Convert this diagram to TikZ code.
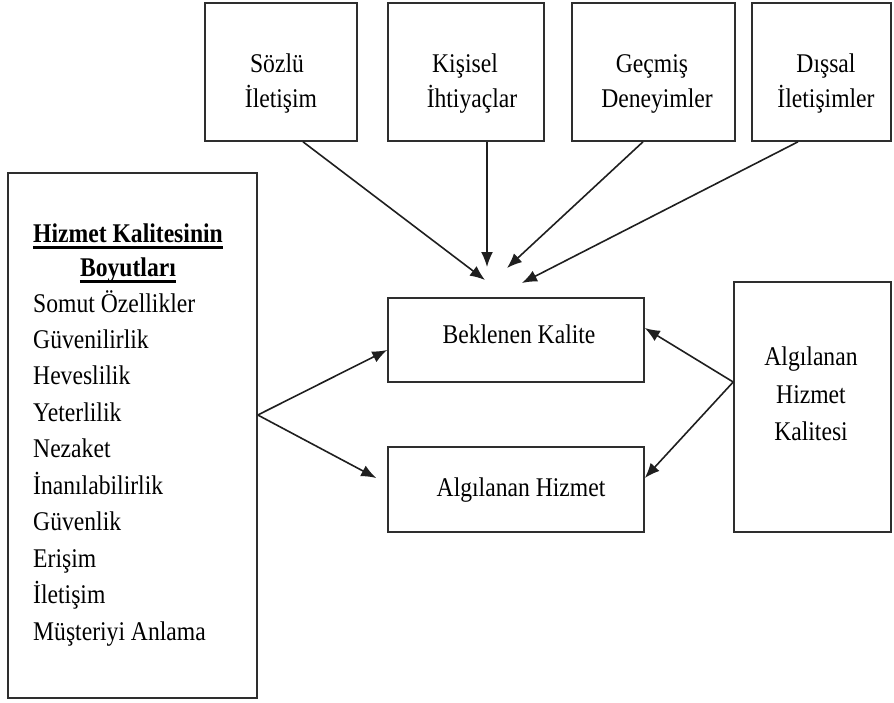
\documentclass[tikz,border=0pt]{standalone}
\usepackage{fontspec}
\setmainfont{Liberation Serif}[FakeStretch=0.875]
\usetikzlibrary{arrows.meta}
\begin{document}
\begin{tikzpicture}[x=1pt,y=-1pt,
  box/.style={draw=black!82,line width=1.6pt,inner sep=0pt,fill=white},
  txt/.style={font=\fontsize{27}{35}\selectfont,inner sep=0pt,anchor=base},
  item/.style={txt,anchor=base west},
  head/.style={txt,font=\fontsize{27}{35}\selectfont\bfseries},
  arr/.style={draw=black!88,line width=1.6pt,-{Latex[length=15pt,width=12pt]}}]
\useasboundingbox (0,0) rectangle (894,702);

% top row of influences
\node[box,minimum width=152pt,minimum height=138pt] (b1) at (281,72) {};
\node[box,minimum width=156pt,minimum height=138pt] (b2) at (466,72) {};
\node[box,minimum width=163pt,minimum height=138pt] (b3) at (653.5,72) {};
\node[box,minimum width=139pt,minimum height=138pt] (b4) at (821.5,72) {};
\node[txt] (t1a) at (277,72) {Sözlü};
\node[txt] (t1b) at (281,107) {İletişim};
\node[txt] (t2a) at (465,72) {Kişisel};
\node[txt] (t2b) at (472,107) {İhtiyaçlar};
\node[txt] (t3a) at (652,72) {Geçmiş};
\node[txt] (t3b) at (657,107) {Deneyimler};
\node[txt] (t4a) at (826,72) {Dışsal};
\node[txt] (t4b) at (826,107) {İletişimler};

% dimensions list
\node[box,minimum width=249pt,minimum height=525pt] (L) at (132.5,435.5) {};
\node[head] (h1) at (128,242) {Hizmet Kalitesinin};
\node[head] (h2) at (128,276) {Boyutları};
\draw[line width=3pt] ([yshift=-5pt]h1.base west) -- ([yshift=-5pt]h1.base east);
\draw[line width=3pt] ([yshift=-5pt]h2.base west) -- ([yshift=-5pt]h2.base east);
\node[item] (i1) at (33,312) {Somut Özellikler};
\node[item] (i2) at (33,348) {Güvenilirlik};
\node[item] (i3) at (33,384) {Heveslilik};
\node[item] (i4) at (33,421) {Yeterlilik};
\node[item] (i5) at (33,457) {Nezaket};
\node[item] (i6) at (33,494) {İnanılabilirlik};
\node[item] (i7) at (33,530) {Güvenlik};
\node[item] (i8) at (33,567) {Erişim};
\node[item] (i9) at (33,603) {İletişim};
\node[item] (i10) at (33,640) {Müşteriyi Anlama};

% expected / perceived service
\node[box,minimum width=256pt,minimum height=84pt] (bk) at (516,340) {};
\node[txt] (bkt) at (519,343) {Beklenen Kalite};
\node[box,minimum width=256pt,minimum height=85pt] (ah) at (516,489.5) {};
\node[txt] (aht) at (521,496) {Algılanan Hizmet};

% perceived service quality
\node[box,minimum width=157pt,minimum height=250pt] (R) at (812.5,407) {};
\node[txt] (r1) at (811,365) {Algılanan};
\node[txt] (r2) at (811,403) {Hizmet};
\node[txt] (r3) at (811,440) {Kalitesi};

% arrows into expected quality
\coordinate (k1) at (485,280);
\coordinate (k2) at (487,267);
\coordinate (k3) at (507,268);
\coordinate (k4) at (522,283);
\draw[arr] ([xshift=22pt]b1.south) -- (k1);
\draw[arr] ([xshift=21pt]b2.south) -- (k2);
\draw[arr] ([xshift=-10.5pt]b3.south) -- (k3);
\draw[arr] ([xshift=-23.5pt]b4.south) -- (k4);

% arrows from the dimensions
\draw[arr] ([yshift=20.5pt]L.east) -- ([yshift=-10pt]bk.west);
\draw[arr] ([yshift=20.5pt]L.east) -- ([xshift=-11pt,yshift=11.5pt]ah.west);

% arrows from perceived service quality
\draw[arr] ([yshift=25pt]R.west) -- ([yshift=12pt]bk.east);
\draw[arr] ([yshift=25pt]R.west) -- ([yshift=11.5pt]ah.east);
\end{tikzpicture}
\end{document}
